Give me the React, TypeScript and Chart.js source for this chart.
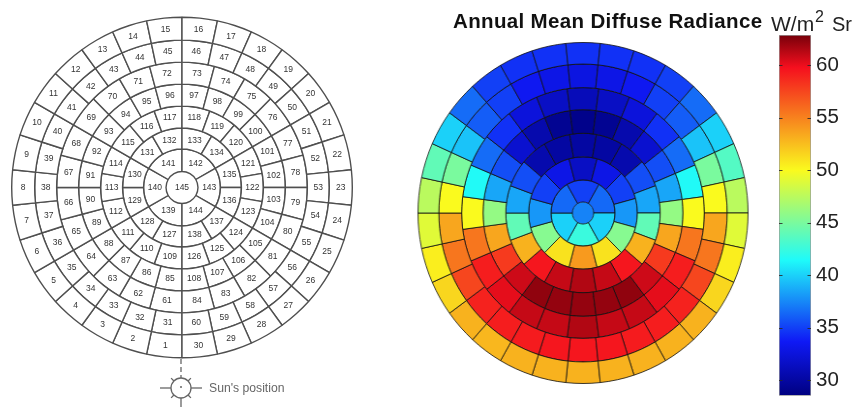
import React, { useEffect, useRef } from "react";
import { Chart, registerables } from "chart.js";

Chart.register(...registerables);

// Patch counts per ring of the 145-patch sky subdivision, outermost first
const RING_COUNTS = [30, 30, 24, 24, 18, 12, 6, 1];
const LEFT_RING_WEIGHTS = [23, 22, 22, 22, 22, 21, 22.5, 16];
const RIGHT_RING_WEIGHTS = [21.5, 23.5, 22, 23.5, 23.5, 23, 22, 11];

// Annual mean diffuse radiance, clockwise from the patch at the bottom
const RING1 = [53, 53, 53, 52.8, 53, 51.5, 50.5, 49, 47.5, 44, 40, 36.5, 35, 34.5, 34.5, 34.5, 34.5, 34.5, 35, 36.5, 40, 43.5, 47.5, 49, 50.5, 51.5, 53, 53, 53, 53];
const RING2 = [59.5, 59.5, 59.3, 59.2, 59, 57.5, 55.5, 53.5, 50, 45, 39.5, 36, 35, 33.5, 33, 32.8, 33, 33.5, 35, 36, 39.5, 45, 50, 53.5, 55.5, 57.5, 59, 59.2, 59.3, 59.5];
const RING3 = [61.5, 61, 61, 60.2, 59.2, 55.5, 50, 41.5, 36.5, 34.5, 32.5, 31.5, 31, 31.5, 32.5, 34.5, 36.5, 41.5, 50, 55.5, 59.2, 60.2, 61, 61];
const RING4 = [62.2, 62.2, 62.3, 60.8, 58, 53.5, 46, 38.5, 35.5, 32, 30.5, 29.3, 29, 29.3, 30.5, 32, 35.5, 38.5, 46, 53.5, 58, 60.8, 62.3, 62.2];
const RING5 = [61.5, 61, 59.5, 53, 44, 38.5, 35.5, 30.5, 30, 30, 30, 30.5, 35.5, 38.5, 44, 53, 59.5, 61];
const RING6 = [54, 51, 45.5, 38, 35, 33, 31.5, 33, 35, 38, 45.5, 51];
const RING7 = [42.5, 40, 36.4, 35, 36.4, 40];
const RING8 = [37.3];
const RADIANCE_RINGS = [RING1, RING2, RING3, RING4, RING5, RING6, RING7, RING8];

// Colour bar
const BAR_MIN = 28.5;
const BAR_MAX = 62.9;
const BAR_TICKS = [30, 35, 40, 45, 50, 55, 60];
const JET_STOPS: [number, number, number, number][] = [
  [0, 0, 0, 128],
  [0.15, 15, 25, 245],
  [0.375, 30, 250, 250],
  [0.625, 250, 250, 30],
  [0.91, 245, 15, 30],
  [1, 120, 0, 10],
];

const TITLE = "Annual Mean Diffuse Radiance";
const SUN_LABEL = "Sun's position";
const SANS = '"Liberation Sans", Arial, sans-serif';

function jetColor(value: number): string {
  const t = Math.min(1, Math.max(0, (value - BAR_MIN) / (BAR_MAX - BAR_MIN)));
  for (let i = 1; i < JET_STOPS.length; i++) {
    const a = JET_STOPS[i - 1];
    const b = JET_STOPS[i];
    if (t <= b[0]) {
      const f = (t - a[0]) / (b[0] - a[0]);
      const c = [1, 2, 3].map((k) => Math.round(a[k] + (b[k] - a[k]) * f));
      return `rgb(${c[0]},${c[1]},${c[2]})`;
    }
  }
  return "rgb(120,0,10)";
}

const patchLabelPlugin = {
  id: "patchLabels",
  afterDatasetsDraw(chart: any) {
    const { ctx } = chart;
    ctx.save();
    ctx.font = `8.5px ${SANS}`;
    ctx.fillStyle = "#333";
    ctx.textAlign = "center";
    ctx.textBaseline = "middle";
    chart.data.datasets.forEach((ds: any, d: number) => {
      chart.getDatasetMeta(d).data.forEach((arc: any, i: number) => {
        const p =
          ds.data.length === 1
            ? { x: arc.x, y: arc.y }
            : arc.getCenterPoint();
        ctx.fillText(ds.patchLabels[i], p.x, p.y);
      });
    });
    ctx.restore();
  },
};

const sunPlugin = {
  id: "sunSymbol",
  afterDraw(chart: any) {
    const { ctx } = chart;
    const cx = (chart.chartArea.left + chart.chartArea.right) / 2 - 1;
    const cy = 388;
    const r = 10;
    ctx.save();
    ctx.strokeStyle = "#666";
    ctx.lineWidth = 1.3;
    const line = (x1: number, y1: number, x2: number, y2: number) => {
      ctx.beginPath();
      ctx.moveTo(x1, y1);
      ctx.lineTo(x2, y2);
      ctx.stroke();
    };
    ctx.setLineDash([5, 3]);
    line(cx, 359, cx, 378);
    ctx.setLineDash([]);
    ctx.beginPath();
    ctx.arc(cx, cy, r, 0, Math.PI * 2);
    ctx.stroke();
    line(cx - r - 11, cy, cx - r, cy);
    line(cx + r, cy, cx + r + 11, cy);
    line(cx, cy + r, cx, 407);
    [45, 135, 225, 315].forEach((deg) => {
      const a = (deg * Math.PI) / 180;
      line(cx + r * Math.cos(a), cy + r * Math.sin(a), cx + (r + 4) * Math.cos(a), cy + (r + 4) * Math.sin(a));
    });
    ctx.fillStyle = "#666";
    ctx.beginPath();
    ctx.arc(cx, cy - 1, 1, 0, Math.PI * 2);
    ctx.fill();
    ctx.font = `12.2px ${SANS}`;
    ctx.textBaseline = "alphabetic";
    ctx.fillText(SUN_LABEL, 209, 392);
    ctx.restore();
  },
};

const colorbarPlugin = {
  id: "colorbarExtras",
  afterDatasetsDraw(chart: any) {
    const { ctx, chartArea, scales } = chart;
    ctx.save();
    ctx.strokeStyle = "rgba(40,40,40,0.85)";
    ctx.lineWidth = 1.2;
    BAR_TICKS.forEach((v) => {
      const y = Math.round(scales.y.getPixelForValue(v)) + 0.5;
      ctx.beginPath();
      ctx.moveTo(chartArea.left, y);
      ctx.lineTo(chartArea.left + 3.5, y);
      ctx.moveTo(chartArea.right - 3.5, y);
      ctx.lineTo(chartArea.right, y);
      ctx.stroke();
    });
    ctx.restore();
  },
  afterDraw(chart: any) {
    const { ctx } = chart;
    ctx.save();
    ctx.fillStyle = "#111";
    ctx.textBaseline = "alphabetic";
    ctx.font = `bold 20.5px ${SANS}`;
    (ctx as any).letterSpacing = "0.35px";
    ctx.fillText(TITLE, 13, 28);
    (ctx as any).letterSpacing = "0px";
    ctx.font = `21px ${SANS}`;
    ctx.fillStyle = "#222";
    ctx.fillText("W/m", 331, 31);
    ctx.font = `16px ${SANS}`;
    ctx.fillText("2", 375, 22);
    ctx.font = `20px ${SANS}`;
    ctx.fillText("Sr", 392, 31);
    ctx.restore();
  },
};

function useChart(build: (canvas: HTMLCanvasElement) => Chart) {
  const ref = useRef<HTMLCanvasElement>(null);
  useEffect(() => {
    const chart = build(ref.current as HTMLCanvasElement);
    return () => chart.destroy();
  }, []);
  return ref;
}

const baseDoughnutOptions = {
  responsive: false,
  animation: false,
  cutout: 0,
  plugins: { legend: { display: false }, tooltip: { enabled: false } },
};

export default function App() {
  const leftRef = useChart((canvas) => {
    let next = 1;
    const datasets = RING_COUNTS.map((count, r) => {
      const patchLabels = Array.from({ length: count }, () => String(next++));
      return {
        data: patchLabels.map(() => 1),
        patchLabels,
        weight: LEFT_RING_WEIGHTS[r],
        backgroundColor: "#fff",
        borderColor: "#4f4f4f",
        borderWidth: count === 1 ? 0 : 1.4,
      };
    });
    return new Chart(canvas, {
      type: "doughnut",
      data: { labels: [], datasets },
      options: {
        ...baseDoughnutOptions,
        rotation: 180,
        layout: { padding: { left: 10.5, right: 46.5, top: 16.5, bottom: 48.5 } },
      },
      plugins: [patchLabelPlugin, sunPlugin],
    } as any);
  });

  const rightRef = useChart((canvas) => {
    const datasets = RADIANCE_RINGS.map((ring, r) => ({
      data: ring.map(() => 1),
      weight: RIGHT_RING_WEIGHTS[r],
      backgroundColor: ring.map(jetColor),
      borderColor: "rgba(15,15,15,0.8)",
      borderWidth: ring.length === 1 ? 0 : 1,
      rotation: 180 - 180 / ring.length,
    }));
    return new Chart(canvas, {
      type: "doughnut",
      data: { labels: [], datasets },
      options: { ...baseDoughnutOptions, layout: { padding: 5 } },
    } as any);
  });

  const barRef = useChart((canvas) => {
    return new Chart(canvas, {
      type: "bar",
      data: {
        labels: ["W/m2 Sr"],
        datasets: [
          {
            data: [[BAR_MIN, BAR_MAX]],
            barPercentage: 1,
            categoryPercentage: 1,
            borderColor: "#9a9a9a",
            borderWidth: 1,
            borderSkipped: false,
            backgroundColor: (c: any) => {
              const { chartArea, ctx } = c.chart;
              if (!chartArea) return "#888";
              const g = ctx.createLinearGradient(0, chartArea.bottom, 0, chartArea.top);
              JET_STOPS.forEach((s) => g.addColorStop(s[0], `rgb(${s[1]},${s[2]},${s[3]})`));
              return g;
            },
          },
        ],
      },
      options: {
        responsive: false,
        animation: false,
        layout: { autoPadding: false, padding: { left: 339, top: 35, bottom: 12, right: 0 } },
        plugins: { legend: { display: false }, tooltip: { enabled: false } },
        scales: {
          x: { display: false },
          y: {
            position: "right",
            min: BAR_MIN,
            max: BAR_MAX,
            afterBuildTicks: (s: any) => {
              s.ticks = BAR_TICKS.map((value) => ({ value }));
            },
            afterFit: (s: any) => {
              s.width = 44;
            },
            border: { display: false },
            grid: { display: false, drawTicks: false },
            ticks: {
              padding: 5,
              color: "#222",
              font: { family: SANS, size: 20.5 },
            },
          },
        },
      },
      plugins: [colorbarPlugin],
    } as any);
  });

  const canvasStyle: React.CSSProperties = { position: "absolute", display: "block", filter: "blur(0.35px)" };
  return (
    <div style={{ position: "fixed", left: 0, top: 0, width: 855, height: 407, overflow: "hidden", background: "#fff" }}>
      <canvas ref={leftRef} width={400} height={407} style={{ ...canvasStyle, left: 0, top: 0 }} />
      <canvas ref={rightRef} width={352} height={352} style={{ ...canvasStyle, left: 406.5, top: 37, transform: "scaleX(0.968)" }} />
      <canvas ref={barRef} width={415} height={413} style={{ ...canvasStyle, left: 440, top: 0 }} />
    </div>
  );
}
